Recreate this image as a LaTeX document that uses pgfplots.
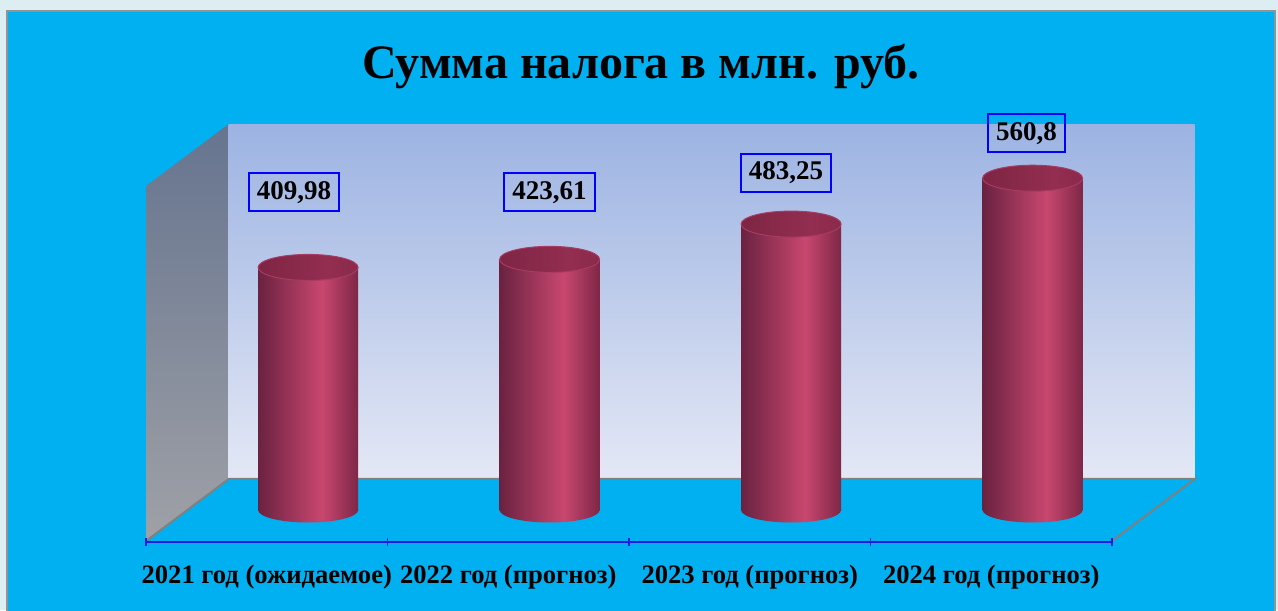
\documentclass[border=0pt]{standalone}
\usepackage{fontspec}
\setmainfont{Liberation Serif}
\usepackage{pgfplots}
\pgfplotsset{compat=1.18}
\usepackage{pgfplotstable}
\definecolor{outerbg}{HTML}{DDEEF3}
\definecolor{cyanbg}{HTML}{00B0F0}
\definecolor{wallT}{HTML}{9CB3E2}
\definecolor{wallB}{HTML}{E4E8F5}
\definecolor{lwT}{HTML}{66748F}
\definecolor{lwB}{HTML}{9FA1A6}
\definecolor{cylL}{HTML}{6A2240}
\definecolor{cylM}{HTML}{C8476F}
\definecolor{cylR}{HTML}{7E2746}
\definecolor{capL}{HTML}{7E2544}
\definecolor{capM}{HTML}{932E50}
\definecolor{capR}{HTML}{8A2A4A}
\definecolor{rimc}{HTML}{A83A63}
\definecolor{axisblue}{HTML}{1C1CE6}
\pgfdeclarehorizontalshading{cylside}{100bp}{color(0bp)=(cylL); color(25bp)=(cylL); color(57bp)=(cylM); color(75bp)=(cylR); color(100bp)=(cylR)}
\pgfdeclarehorizontalshading{cylcap}{100bp}{color(0bp)=(capL); color(25bp)=(capL); color(60bp)=(capM); color(75bp)=(capR); color(100bp)=(capR)}
\pgfdeclareplotmark{cylbot}{\path[shade, shading=cylside, draw=none] (0pt,0pt) ellipse [x radius=25pt, y radius=6.25pt];}
\pgfdeclareplotmark{cyltop}{\path[shade, shading=cylcap, draw=rimc, line width=0.5pt, rotate=4] (0pt,0pt) ellipse [x radius=25pt, y radius=6.5pt];}
\pgfplotstableread{
x y b
0 409.98 0
1 423.61 0
2 483.25 0
3 560.8 0
}\data
\begin{document}
\begin{tikzpicture}[x=0.5pt,y=0.5pt]
\fill[outerbg] (0,0) rectangle (1278,610);
\filldraw[fill=cyanbg, draw=gray!85, line width=0.6pt] (7,-4) rectangle (1275,599);
\node[font=\bfseries\fontsize{24}{28}\selectfont, anchor=base] at (641,531) {Сумма налога в млн. руб.};
\begin{axis}[at={(93.675pt,50pt)}, anchor=south west, scale only axis,
  width=483pt, height=177.5pt,
  xmin=-0.5, xmax=3.5, ymin=0, ymax=600, clip=false,
  axis line style={draw=none}, tick style={draw=none}, ytick=\empty,
  xtick={-0.1712,0.8288,1.8288,2.8288},
  xticklabels={2021 год (ожидаемое), 2022 год (прогноз), 2023 год (прогноз), 2024 год (прогноз)},
  xticklabel style={font=\bfseries\fontsize{13.3}{15}\selectfont, anchor=base, yshift=-36.5pt}]
\shade[top color=wallT, bottom color=wallB] (axis cs:-0.3288,52.4) rectangle (axis cs:3.6712,652.4);
\shade[top color=lwT, bottom color=lwB] (axis cs:-0.6712,-52.4) -- (axis cs:-0.3288,52.4) -- (axis cs:-0.3288,652.4) -- (axis cs:-0.6712,547.6) -- cycle;
\draw[gray, line width=1pt] (axis cs:-0.6712,-52.4) -- (axis cs:-0.3288,52.4) -- (axis cs:3.6712,52.4) -- (axis cs:3.3288,-52.4);
\draw[axisblue, line width=1pt] (axis cs:-0.6712,-53.5) -- (axis cs:3.3288,-53.5);
\draw[axisblue, line width=0.8pt] (axis cs:-0.6712,-60) -- (axis cs:-0.6712,-47);
\draw[axisblue, line width=0.8pt] (axis cs:0.3288,-60) -- (axis cs:0.3288,-47);
\draw[axisblue, line width=0.8pt] (axis cs:1.3288,-60) -- (axis cs:1.3288,-47);
\draw[axisblue, line width=0.8pt] (axis cs:2.3288,-60) -- (axis cs:2.3288,-47);
\draw[axisblue, line width=0.8pt] (axis cs:3.3288,-60) -- (axis cs:3.3288,-47);
\addplot[only marks, mark=cylbot, draw=none] table[x=x,y=b]{\data};
\addplot[ybar, bar width=50pt, bar shift=0pt, draw=none, shade, shading=cylside] coordinates {(0,409.98)};
\addplot[ybar, bar width=50pt, bar shift=0pt, draw=none, shade, shading=cylside] coordinates {(1,423.61)};
\addplot[ybar, bar width=50pt, bar shift=0pt, draw=none, shade, shading=cylside] coordinates {(2,483.25)};
\addplot[ybar, bar width=50pt, bar shift=0pt, draw=none, shade, shading=cylside] coordinates {(3,560.8)};
\addplot[only marks, mark=cyltop] table[x=x,y=y]{\data};
\tikzset{vbox/.style={draw=blue, line width=1pt, inner xsep=4pt, minimum height=19pt, font=\bfseries\fontsize{13.5}{15}\selectfont}}
\node[vbox] at (axis cs:-0.058,537) {409,98};
\node[vbox] at (axis cs:1.0,537) {423,61};
\node[vbox] at (axis cs:1.979,569.6) {483,25};
\node[vbox] at (axis cs:2.975,637) {560,8};
\end{axis}
\pgfresetboundingbox
\useasboundingbox (0,0) rectangle (1278,610);
\end{tikzpicture}
\end{document}
